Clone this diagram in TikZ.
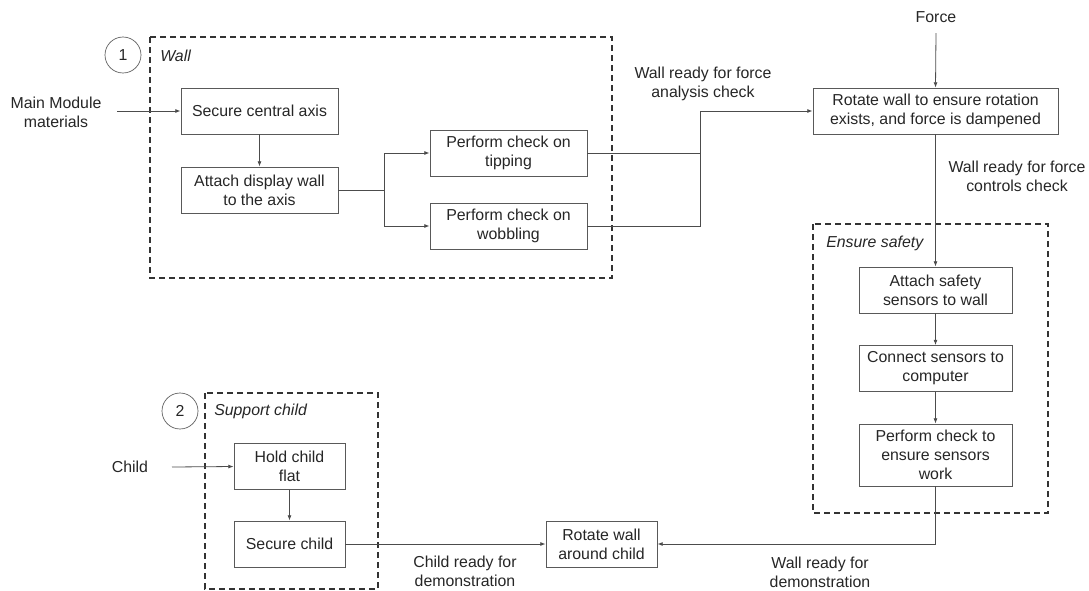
\documentclass[tikz,border=0pt]{standalone}
\usepackage{fontspec}
\setmainfont{Liberation Sans}
\usetikzlibrary{arrows.meta}

\begin{document}
\begin{tikzpicture}[x=0.75pt, y=-0.75pt,
    every node/.style={font=\fontsize{11.9}{14.2}\selectfont, text=black!85},
    task/.style={draw=black!65, line width=0.6pt, align=center, inner sep=0pt,
                 minimum height=34.5pt},
    note/.style={align=center, inner sep=0pt},
    tag/.style={draw=black!65, line width=0.5pt, circle, minimum size=27pt, inner sep=0pt},
    group/.style={draw=black!80, line width=1.1pt, dash pattern=on 4.5pt off 3pt},
    title/.style={anchor=west, inner sep=0pt, font=\fontsize{11.9}{14.2}\selectfont\itshape},
    line/.style={draw=black!70, line width=0.6pt},
    flow/.style={line, -{Latex[length=4pt,width=3pt]}}]
  \useasboundingbox (0,0) rectangle (1089,590);

  % group 1: wall
  \draw[group] (150,37) rectangle (612,278);
  \node[tag] (one) at (123,55) {1};
  \node[title] (walltitle) at (160,56) {Wall};
  \node[note] (mm) at (56,112) {Main Module\\materials};
  \coordinate (mmend) at (117,111);
  \node[task, minimum width=117.75pt] (sca) at (259.5,111) {Secure central axis};
  \node[task, minimum width=117.75pt] (ada) at (259.5,190) {Attach display wall\\to the axis};
  \node[task, minimum width=117.75pt] (tip) at (508.5,153) {Perform check on\\tipping};
  \node[task, minimum width=117.75pt] (wob) at (508.5,226) {Perform check on\\wobbling};
  \coordinate (split) at (384,190);
  \coordinate (jn) at (700,111);

  % force block
  \node[note] (force) at (936,17) {Force};
  \coordinate (forceend) at (936,33);
  \node[task, minimum width=183.75pt] (rot) at (935.5,111) {Rotate wall to ensure rotation\\exists, and force is dampened};
  \node[note] (lblA) at (703,84) {Wall ready for force\\analysis check};
  \node[note] (lblB) at (1017,176) {Wall ready for force\\controls check};

  % ensure safety
  \draw[group] (813,224) rectangle (1048,513);
  \node[title] (safetitle) at (826,243) {Ensure safety};
  \node[task, minimum width=114.75pt] (ass) at (935.5,290) {Attach safety\\sensors to wall};
  \node[task, minimum width=114.75pt] (cst) at (935.5,368.5) {Connect sensors to\\computer};
  \node[task, minimum width=114.75pt, minimum height=46.5pt] (pcs) at (935.5,455) {Perform check to\\ensure sensors\\work};

  % group 2: support child
  \draw[group] (205,393) rectangle (378,589);
  \node[tag] (two) at (180,411) {2};
  \node[title] (childtitle) at (214,411) {Support child};
  \node[note] (child) at (130,467) {Child};
  \coordinate (childend) at (172,467);
  \node[task, minimum width=83.25pt] (hcf) at (289.5,466.5) {Hold child\\flat};
  \node[task, minimum width=83.25pt] (sch) at (289.5,544) {Secure child};
  \node[task, minimum width=83.25pt] (rwc) at (601.5,544) {Rotate wall\\around child};
  \node[note] (lblC) at (465,571) {Child ready for\\demonstration};
  \node[note] (lblD) at (820,572) {Wall ready for\\demonstration};

  % connectors
  \draw[flow] (mmend) -- (sca.west);
  \draw[flow] (sca.south) -- (ada.north);
  \draw[line] (ada.east) -- (split);
  \draw[flow] (split) |- (tip.west);
  \draw[flow] (split) |- (wob.west);
  \draw[line] (tip.east) -| (jn);
  \draw[line] (wob.east) -| (jn);
  \draw[flow] (jn) -- (rot.west);
  \draw[flow] (forceend) -- (rot.north);
  \draw[flow] (rot.south) -- (ass.north);
  \draw[flow] (ass.south) -- (cst.north);
  \draw[flow] (cst.south) -- (pcs.north);
  \draw[flow] (pcs.south) |- (rwc.east);
  \draw[flow] (childend) -- (hcf.west);
  \draw[flow] (hcf.south) -- (sch.north);
  \draw[flow] (sch.east) -- (rwc.west);
\end{tikzpicture}
\end{document}
